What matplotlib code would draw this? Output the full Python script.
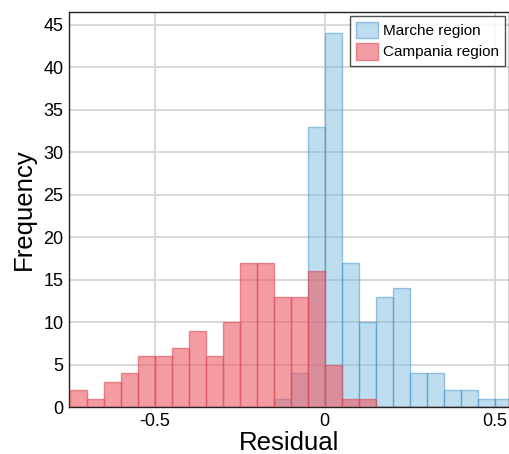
import numpy as np
import matplotlib
matplotlib.use('Agg')
import matplotlib.pyplot as plt

plt.rcParams['font.family'] = ['Liberation Sans', 'DejaVu Sans']

# bin edges (width 0.05) and counts
edges = np.round(np.arange(-0.75, 0.5501, 0.05), 3)
marche = [0, 0, 0, 0, 0, 0, 0, 0, 0, 0, 0, 0, 1, 4, 33, 44, 17, 10, 13, 14, 4, 4, 2, 2, 1, 1]
campania = [2, 1, 3, 4, 6, 6, 7, 9, 6, 10, 17, 17, 13, 13, 16, 5, 1, 1, 0, 0, 0, 0, 0, 0, 0, 0]

fig = plt.figure(figsize=(5.1, 4.54), dpi=100)
ax = fig.add_axes([0.135, 0.1035, 0.863, 0.8705])

left = edges[:-1]
ax.bar(left, marche, width=0.05, align='edge', color='#7fbfe0', alpha=0.5,
       edgecolor='#3d8fc8', linewidth=1.0, label='Marche region', zorder=2)
ax.bar(left, campania, width=0.05, align='edge', color='#ec5a64', alpha=0.6,
       edgecolor='#e04a56', linewidth=1.0, label='Campania region', zorder=3)

ax.set_xlim(-0.753, 0.542)
ax.set_ylim(0, 46.5)
ax.set_xticks([-0.5, 0, 0.5])
ax.set_xticklabels(['-0.5', '0', '0.5'])
ax.set_yticks(range(0, 46, 5))
ax.tick_params(length=0, labelsize=13, pad=4)
ax.grid(True, color='#d4d6d8', linewidth=1.3, zorder=0)
ax.set_axisbelow(True)
for s in ax.spines.values():
    s.set_color('#222222')
    s.set_linewidth(1.0)

ax.set_xlabel('Residual', fontsize=18.5, labelpad=1)
ax.set_ylabel('Frequency', fontsize=18.5, labelpad=5)

leg = ax.legend(loc='upper right', fontsize=11, frameon=True, fancybox=False,
                borderaxespad=0.25, handlelength=1.4, handleheight=1.3,
                handletextpad=0.35, labelspacing=0.3)
leg.get_frame().set_edgecolor('#222222')
leg.get_frame().set_linewidth(1.0)

fig.savefig('out.png', dpi=100)
